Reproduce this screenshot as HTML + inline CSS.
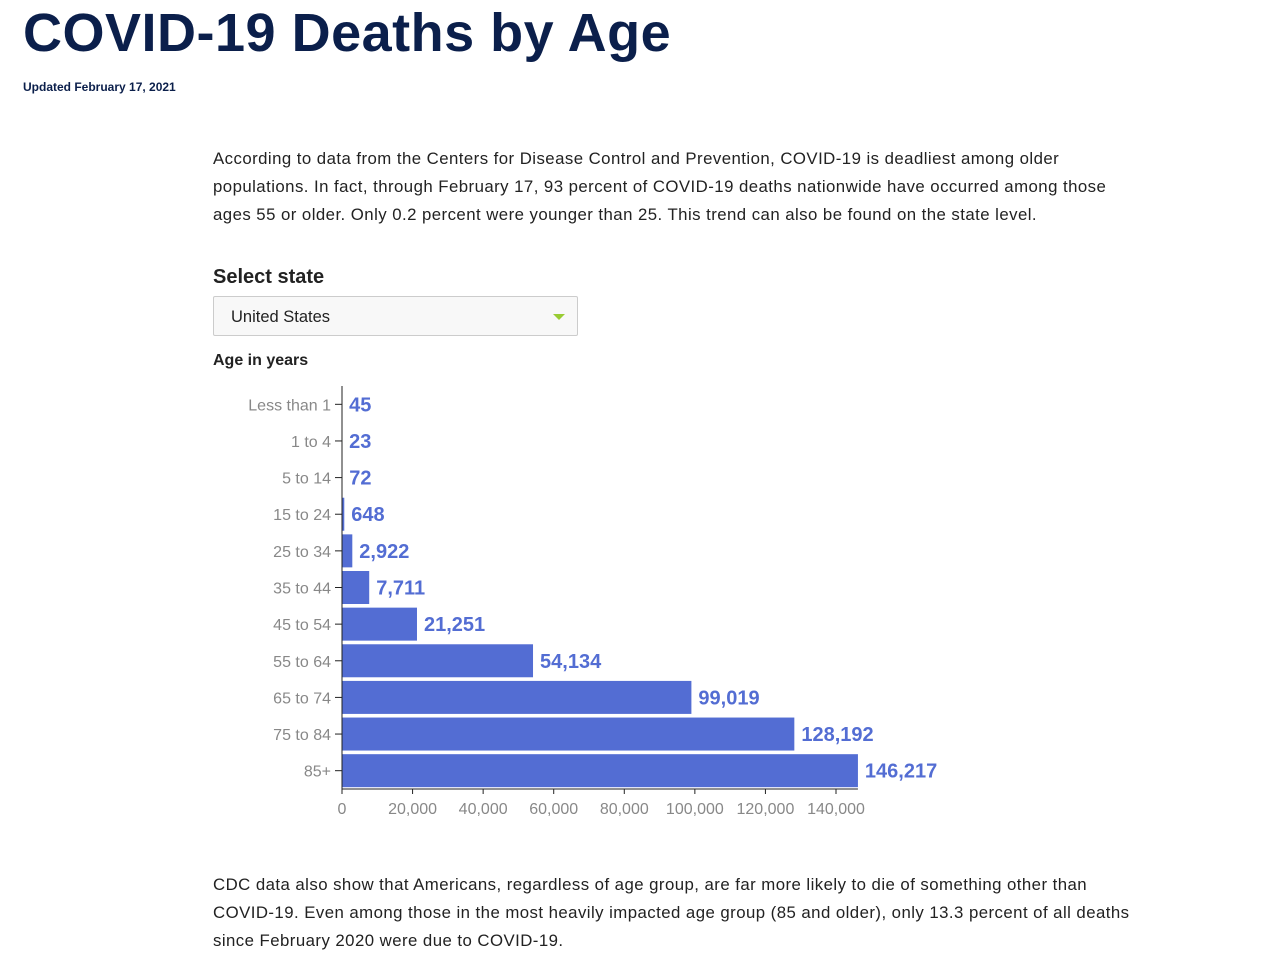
<!DOCTYPE html>
<html><head><meta charset="utf-8"><style>
body{margin:0;width:1275px;height:961px;background:#fff;font-family:"Liberation Sans",sans-serif;position:relative;overflow:hidden}
h1{position:absolute;left:23px;top:2px;margin:0;font-size:54px;font-weight:bold;color:#0b1f4b;letter-spacing:0.5px}
.upd{position:absolute;left:23px;top:80px;font-size:12px;font-weight:bold;color:#0b1f4b}
.p{position:absolute;left:213px;white-space:nowrap;font-size:16.8px;letter-spacing:0.45px;line-height:28px;color:#222}
.lab{position:absolute;left:213px;font-weight:bold;color:#222}
.sel{position:absolute;left:213px;top:296px;width:365px;height:40px;border:1px solid #ccc;border-radius:2px;background:#f8f8f8;font-size:16.5px;color:#222;box-sizing:border-box;padding:11px 17px}
.arrow{position:absolute;right:12px;top:17px;width:0;height:0;border-left:6px solid transparent;border-right:6px solid transparent;border-top:6px solid #9c3}
</style></head><body>
<h1>COVID-19 Deaths by Age</h1>
<div class="upd">Updated February 17, 2021</div>
<div class="p" style="top:145px">According to data from the Centers for Disease Control and Prevention, COVID-19 is deadliest among older<br>populations. In fact, through February 17, 93 percent of COVID-19 deaths nationwide have occurred among those<br>ages 55 or older. Only 0.2 percent were younger than 25. This trend can also be found on the state level.</div>
<div class="lab" style="top:266px;font-size:20px">Select state</div>
<div class="sel">United States<span class="arrow"></span></div>
<div class="lab" style="top:352px;font-size:16px">Age in years</div>
<svg id="chart" width="1275" height="961" style="position:absolute;left:0;top:0"></svg>
<div class="p" style="top:871px">CDC data also show that Americans, regardless of age group, are far more likely to die of something other than<br>COVID-19. Even among those in the most heavily impacted age group (85 and older), only 13.3 percent of all deaths<br>since February 2020 were due to COVID-19.</div>
<script>
const categories=["Less than 1","1 to 4","5 to 14","15 to 24","25 to 34","35 to 44","45 to 54","55 to 64","65 to 74","75 to 84","85+"];
const deaths=[45,23,72,648,2922,7711,21251,54134,99019,128192,146217];
const xTicks=[0,20000,40000,60000,80000,100000,120000,140000];
const svg=document.getElementById('chart');
const NS='http://www.w3.org/2000/svg';
const x0=342,xPer=494/140000,yTop=386,yBot=789;
const band=(yBot-yTop)/categories.length;
const xs=v=>x0+v*xPer;
const yc=i=>yTop+band*i+band/2;
function mk(t,a,txt){const e=document.createElementNS(NS,t);for(const k in a)e.setAttribute(k,a[k]);if(txt!=null)e.textContent=txt;svg.appendChild(e);return e;}
categories.forEach((c,i)=>{
 const b=mk('rect',{x:x0,y:yc(i)-16.5,width:xs(deaths[i])-x0,height:33,fill:'#536dd3'});
 
 
 const l=mk('text',{x:xs(deaths[i])+7,y:yc(i)+7,'font-size':20,'font-weight':'bold',fill:'#536dd3','font-family':'Liberation Sans, sans-serif'},deaths[i].toLocaleString('en-US'));
 
 
 mk('line',{x1:x0-7,x2:x0,y1:yc(i),y2:yc(i),stroke:'#222'});
 const t=mk('text',{x:x0-11,y:yc(i)+6,'font-size':16,fill:'#888','text-anchor':'end','font-family':'Liberation Sans, sans-serif'},c);
 
 
});
mk('line',{x1:x0,x2:x0,y1:yTop,y2:yBot,stroke:'#222'});
mk('line',{x1:x0,x2:xs(146217),y1:yBot,y2:yBot,stroke:'#222'});
xTicks.forEach(v=>{
 mk('line',{x1:xs(v),x2:xs(v),y1:yBot,y2:yBot+5,stroke:'#222'});
 const t=mk('text',{x:xs(v),y:yBot+25,'font-size':16,fill:'#888','text-anchor':'middle','font-family':'Liberation Sans, sans-serif'},v.toLocaleString('en-US'));
 
 
});
</script>
</body></html>
